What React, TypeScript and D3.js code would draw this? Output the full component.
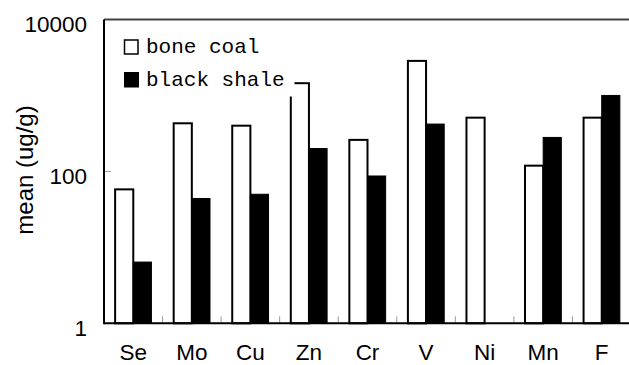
import React from 'react';
import * as d3 from 'd3';

const categories = ['Se', 'Mo', 'Cu', 'Zn', 'Cr', 'V', 'Ni', 'Mn', 'F'];
const seriesNames = ['bone coal', 'black shale'];
const boneCoal = [58, 430, 400, 1450, 260, 2850, 510, 119, 510];
const blackShale: (number | null)[] = [6.4, 44, 50, 200, 87, 420, null, 280, 1000];
const yTicks = [1, 100, 10000];

const W = 629;
const H = 365;
const margin = { top: 19.5, right: -2, bottom: 41.7, left: 104 };

const App = () => {
  const x = d3
    .scaleBand<string>()
    .domain(categories)
    .range([margin.left, W - margin.right])
    .padding(0);
  const bw = x.bandwidth();
  const x1 = d3
    .scaleBand<string>()
    .domain(seriesNames)
    .range([bw * 0.19, bw * 0.81]);

  const y = d3
    .scaleLog()
    .domain([1, 10000])
    .range([H - margin.bottom, margin.top]);

  const y0 = y(1);
  const tickFont = '"Liberation Sans", Arial, sans-serif';

  return (
    <div style={{ position: 'absolute', left: 0, top: 0 }}>
      <svg width={W} height={H} style={{ display: 'block', background: '#fff' }}>
        {/* bars */}
        {categories.map((c, i) => {
          const bx = x(c)!;
          const b = blackShale[i];
          return (
            <g key={c}>
              <rect
                x={bx + x1('bone coal')!}
                y={y(boneCoal[i])}
                width={x1.bandwidth()}
                height={y0 - y(boneCoal[i])}
                fill="#fff"
                stroke="#000"
                strokeWidth={2}
              />
              {b != null && (
                <rect
                  x={bx + x1('black shale')!}
                  y={y(b)}
                  width={x1.bandwidth()}
                  height={y0 - y(b)}
                  fill="#000"
                  stroke="#000"
                  strokeWidth={1}
                />
              )}
            </g>
          );
        })}

        {/* minor ticks between groups */}
        {categories.slice(1).map(c => (
          <line
            key={'t' + c}
            x1={x(c)}
            x2={x(c)}
            y1={y0}
            y2={y0 - 7}
            stroke="#999"
            strokeWidth={1}
          />
        ))}
        <line x1={margin.left} x2={margin.left + 7} y1={y(100)} y2={y(100)} stroke="#999" strokeWidth={1} />

        {/* frame */}
        <line x1={margin.left} x2={W} y1={margin.top} y2={margin.top} stroke="#404040" strokeWidth={2} />
        <line x1={margin.left} x2={margin.left} y1={margin.top} y2={y0 + 1} stroke="#000" strokeWidth={2} />
        <line x1={margin.left} x2={W} y1={y0} y2={y0} stroke="#000" strokeWidth={2} />

        {/* y tick labels */}
        {yTicks.map(t => (
          <text
            key={t}
            x={87}
            y={y(t) + 12.5}
            textAnchor="end"
            fontFamily={tickFont}
            fontSize={22.5}
            fill="#000"
          >
            {t}
          </text>
        ))}

        {/* x labels */}
        {categories.map(c => (
          <text
            key={'l' + c}
            x={x(c)! + bw / 2}
            y={360}
            textAnchor="middle"
            fontFamily={tickFont}
            fontSize={22.5}
            fill="#000"
          >
            {c}
          </text>
        ))}

        {/* y title */}
        <text
          transform="translate(33,170) rotate(-90)"
          textAnchor="middle"
          fontFamily={tickFont}
          fontSize={24}
          fill="#000"
        >
          mean (ug/g)
        </text>

        {/* legend */}
        <rect x={105.5} y={21} width={189} height={75.5} fill="#fff" />
        <rect x={124.5} y={40} width={13.5} height={14} fill="#fff" stroke="#000" strokeWidth={1.5} />
        <rect x={124} y={72} width={15} height={15.5} fill="#000" />
        {seriesNames.map((s, i) => (
          <text
            key={s}
            x={146}
            y={53 + i * 33}
            fontFamily='"Liberation Mono", "DejaVu Sans Mono", monospace'
            fontSize={21}
            fill="#000"
          >
            {s}
          </text>
        ))}
      </svg>
    </div>
  );
};

export default App;
